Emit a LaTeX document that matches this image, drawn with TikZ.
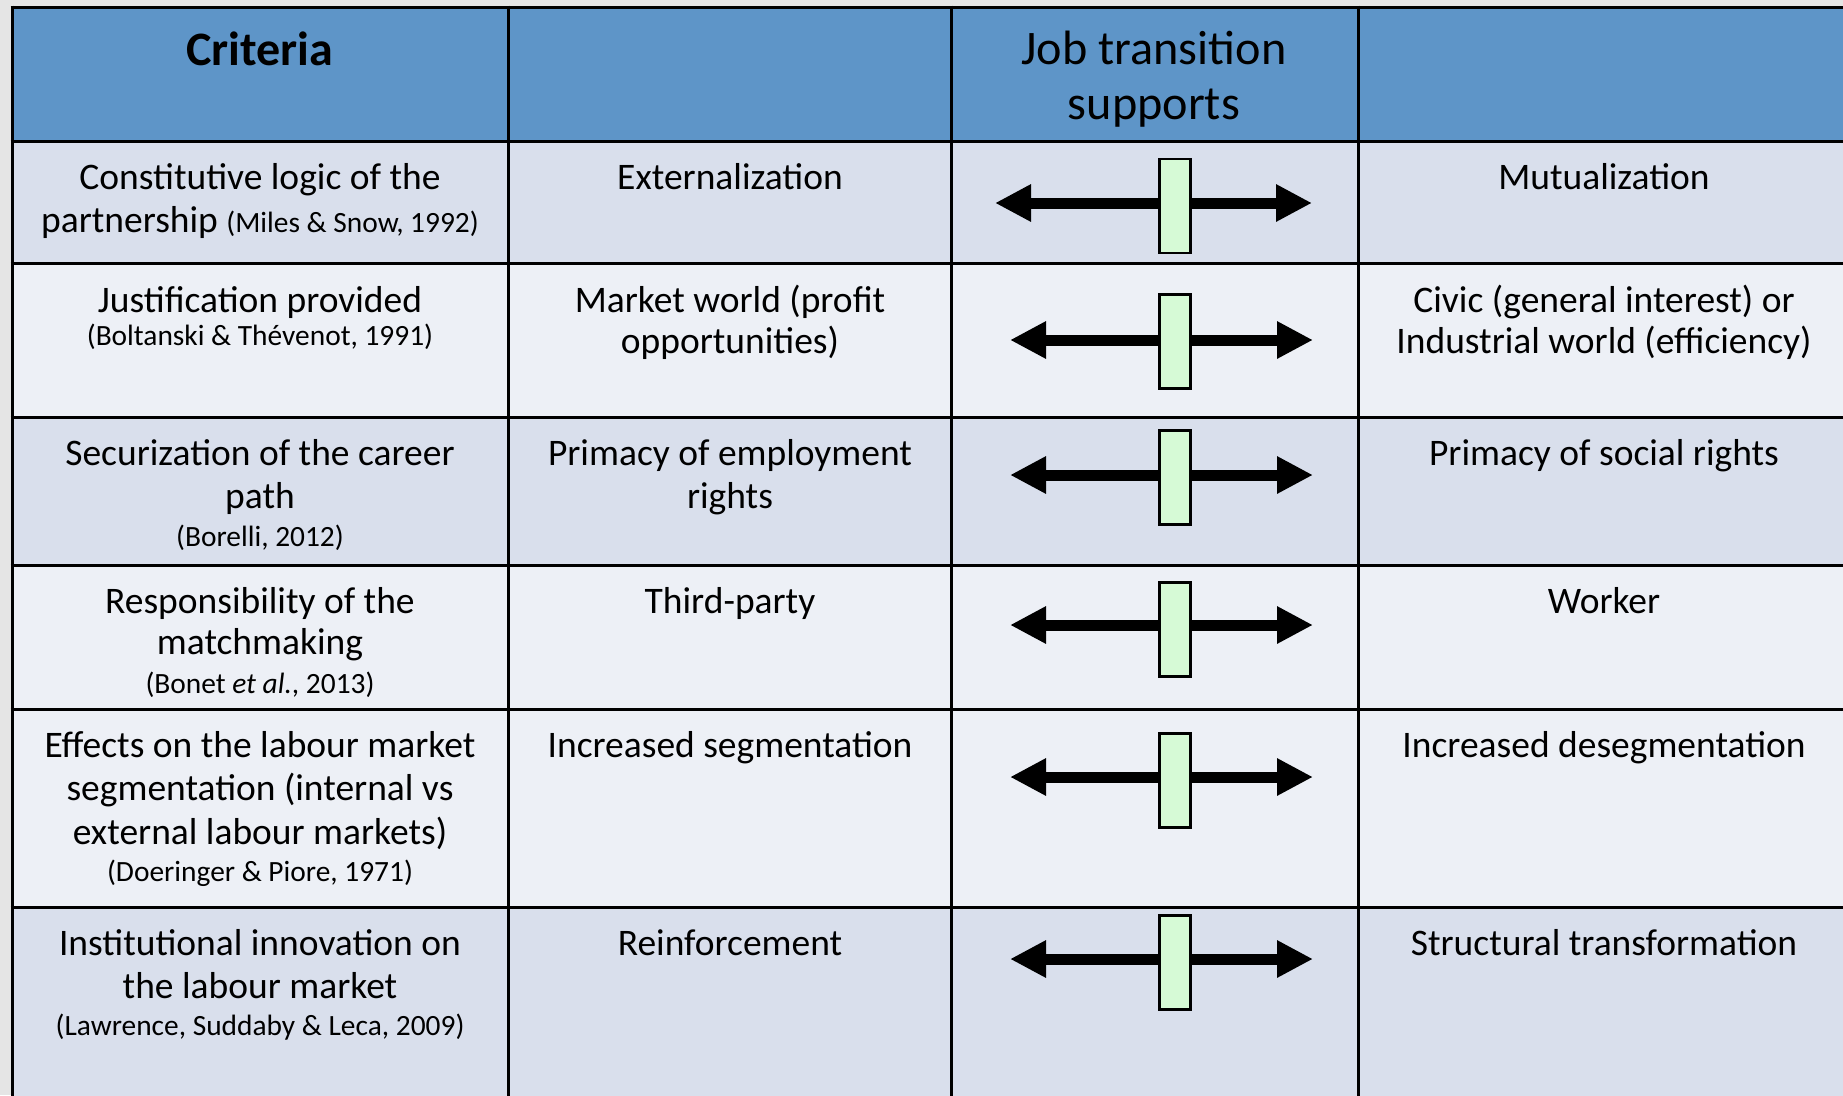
\documentclass[tikz,border=0pt]{standalone}
\usepackage{fontspec}
\setmainfont{Carlito}
\usetikzlibrary{arrows.meta}
\definecolor{hdr}{RGB}{94,149,200}
\definecolor{rowdark}{RGB}{217,223,236}
\definecolor{rowlight}{RGB}{237,240,246}
\definecolor{pagebg}{RGB}{229,229,229}
\definecolor{slidergreen}{RGB}{214,250,214}
\newcommand\smtxt{\fontsize{29.4}{34}\selectfont}
\newcommand\mstrut{\rule{0pt}{30pt}}
\newcommand\hstrut{\rule{0pt}{40pt}}
\begin{document}
\begin{tikzpicture}[x=1pt,y=-1pt,
  gridline/.style={line width=3pt,black},
  celltxt/.style={anchor=north,inner sep=0pt,align=flush center,text width=470pt,
    font=\fontsize{37.5}{43}\selectfont},
  headtxt/.style={anchor=north,inner sep=0pt,align=flush center,text width=400pt,
    font=\fontsize{48.2}{55}\selectfont},
  twoway/.style={line width=11pt,{Triangle[length=36pt,width=35pt]}-{Triangle[length=36pt,width=35pt]}},
  slider/.style={draw=black,line width=2.5pt,fill=slidergreen,minimum width=31pt,minimum height=94pt,inner sep=0pt}]
\useasboundingbox (0,0) rectangle (1843,1095);
\clip (0,0) rectangle (1843,1095);
\fill[pagebg] (0,0) rectangle (1843,1095);
% backgrounds
\fill[hdr] (12,7) rectangle (1860,141);
\fill[rowdark] (12,141) rectangle (1860,263);
\fill[rowlight] (12,263) rectangle (1860,417);
\fill[rowdark] (12,417) rectangle (1860,565);
\fill[rowlight] (12,565) rectangle (1860,709);
\fill[rowlight] (12,709) rectangle (1860,907);
\fill[rowdark] (12,907) rectangle (1860,1110);
% grid
\foreach \yy in {7,141,263,417,565,709,907} \draw[gridline] (10.5,\yy) -- (1860,\yy);
\foreach \xx in {12,508,951,1358} \draw[gridline] (\xx,5.5) -- (\xx,1110);
% header
\node[headtxt,font=\fontsize{48}{55}\selectfont\bfseries] (h1) at (260,25) {\hstrut Criteria};
\node[headtxt] (h3) at (1154,24) {\hstrut Job transition\\supports};
% row 1
\node[celltxt] (c11) at (260,159) {\mstrut Constitutive logic of the\\partnership {\smtxt (Miles \& Snow, 1992)}};
\node[celltxt] (c12) at (730,159) {\mstrut Externalization};
\node[celltxt] (c14) at (1604,159) {\mstrut Mutualization};
% row 2
\node[celltxt] (c21) at (260,282.5) {\mstrut Justification provided\\[-10pt]{\smtxt (Boltanski \& Thévenot, 1991)}};
\node[celltxt] (c22) at (730,282.5) {\mstrut Market world (profit\\[-2pt]opportunities)};
\node[celltxt] (c24) at (1604,282.5) {\mstrut Civic (general interest) or\\[-2pt]Industrial world (efficiency)};
% row 3
\node[celltxt] (c31) at (260,435) {\mstrut Securization of the career\\path\\[-5pt]{\smtxt (Borelli, 2012)}};
\node[celltxt] (c32) at (730,435) {\mstrut Primacy of employment\\rights};
\node[celltxt] (c34) at (1604,435) {\mstrut Primacy of social rights};
% row 4
\node[celltxt] (c41) at (260,583.5) {\mstrut Responsibility of the\\[-2pt]matchmaking\\[-4pt]{\smtxt (Bonet \textit{et al.}, 2013)}};
\node[celltxt] (c42) at (730,583.5) {\mstrut Third-party};
\node[celltxt] (c44) at (1604,583.5) {\mstrut Worker};
% row 5
\node[celltxt] (c51) at (260,727.5) {\mstrut Effects on the labour market\\segmentation (internal vs\\[1pt]external labour markets)\\[-6pt]{\smtxt (Doeringer \& Piore, 1971)}};
\node[celltxt] (c52) at (730,727.5) {\mstrut Increased segmentation};
\node[celltxt] (c54) at (1604,727.5) {\mstrut Increased desegmentation};
% row 6
\node[celltxt] (c61) at (260,925.5) {\mstrut Institutional innovation on\\the labour market\\[-6pt]{\smtxt (Lawrence, Suddaby \& Leca, 2009)}};
\node[celltxt] (c62) at (730,925.5) {\mstrut Reinforcement};
\node[celltxt] (c64) at (1604,925.5) {\mstrut Structural transformation};
% arrows and sliders
\coordinate (l1) at (995,203);  \coordinate (r1) at (1312,203);
\coordinate (l2) at (1010,340); \coordinate (r2) at (1313,340);
\coordinate (l3) at (1010,475); \coordinate (r3) at (1313,475);
\coordinate (l4) at (1010,625); \coordinate (r4) at (1313,625);
\coordinate (l5) at (1010,777); \coordinate (r5) at (1313,777);
\coordinate (l6) at (1010,959); \coordinate (r6) at (1313,959);
\foreach \i in {1,...,6} \draw[twoway] (l\i) -- (r\i);
\node[slider] (s1) at (1175,206) {};
\node[slider] (s2) at (1175,341.5) {};
\node[slider] (s3) at (1175,477.5) {};
\node[slider] (s4) at (1175,629.5) {};
\node[slider] (s5) at (1175,780.5) {};
\node[slider] (s6) at (1175,962.5) {};
\end{tikzpicture}
\end{document}
